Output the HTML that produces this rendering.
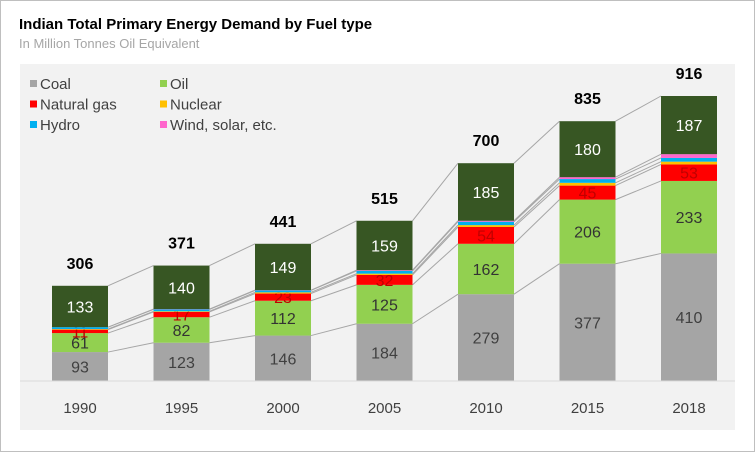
<!DOCTYPE html>
<html><head><meta charset="utf-8"><style>
body{margin:0;width:755px;height:452px;background:#fff;font-family:"Liberation Sans",Arial,sans-serif;overflow:hidden}
#wrap{position:absolute;left:0;top:0;width:753px;height:450px;border:1px solid #bfbfbf}
</style></head><body>
<div id="wrap"></div>
<svg id="chart" width="755" height="452" style="position:absolute;left:0;top:0">
<text x="19" y="29" font-size="15" font-weight="bold" fill="#000">Indian Total Primary Energy Demand by Fuel type</text>
<text x="19" y="48" font-size="13" fill="#a6a6a6">In Million Tonnes Oil Equivalent</text>
<rect x="20" y="64" width="715" height="366" fill="#f2f2f2"/>
<g id="legend"></g>
<g id="lines"></g><g id="bars"></g>
<line x1="20" y1="381" x2="735" y2="381" stroke="#d9d9d9"/>
</svg>
<script>
const years=["1990","1995","2000","2005","2010","2015","2018"];
const coal=[93,123,146,184,279,377,410];
const oil=[61,82,112,125,162,206,233];
const gas=[11,17,23,32,54,45,53];
const nuclear=[2,2,4,4,6,9,9];
const hydro=[6,6,6,9,11,12,12];
const wind=[0,1,1,2,3,6,12];
const other=[133,140,149,159,185,180,187];
const totals=[306,371,441,515,700,835,916];
const seriesNames=["Coal","Oil","Natural gas","Nuclear","Hydro","Wind, solar, etc.",""];
const series=[coal,oil,gas,nuclear,hydro,wind,other];
const colors=["#a5a5a5","#92d050","#ff0000","#ffc000","#00b0f0","#ff66cc","#375623"];
const labelColors=["#404040","#333","#c00000",null,null,null,"#fff"];
const NS="http://www.w3.org/2000/svg";
const base=381,scale=285/916,x0=80,step=101.5,bw=56;
const y=v=>base-v*scale, xc=i=>x0+i*step;
function mk(t,a,p){const e=document.createElementNS(NS,t);for(const k in a)e.setAttribute(k,a[k]);p.appendChild(e);return e;}
const bars=document.getElementById('bars'),lines=document.getElementById('lines'),leg=document.getElementById('legend');
const cums=years.map((_,i)=>{let c=0;return series.map(s=>c+=s[i]);});
for(let s=0;s<series.length;s++){for(let i=0;i<years.length-1;i++){
 const l=mk('line',{x1:xc(i)+bw/2,y1:y(cums[i][s]),x2:xc(i+1)-bw/2,y2:y(cums[i+1][s]),stroke:'#a6a6a6','stroke-width':1},lines);
 
 }}
years.forEach((yr,i)=>{let c=0;
 series.forEach((s,k)=>{const v=s[i];const r=mk('rect',{x:xc(i)-bw/2,y:y(c+v),width:bw,height:v*scale,fill:colors[k]},bars);
  
  
  if(labelColors[k]&&v>=10){const t=mk('text',{x:xc(i),y:y(c+v/2)+6,'text-anchor':'middle','font-size':16,fill:labelColors[k]},bars);t.textContent=v;
   
   }
  c+=v;});
 const tt=mk('text',{x:xc(i),y:y(c)-17,'text-anchor':'middle','font-size':16,'font-weight':'bold',fill:'#000'},bars);tt.textContent=totals[i];
 
 
 const xl=mk('text',{x:xc(i),y:413,'text-anchor':'middle','font-size':15,fill:'#404040'},bars);xl.textContent=yr;
 
 
});
for(let k=0;k<6;k++){const lx=30+(k%2)*130,ly=84+Math.floor(k/2)*20.5;
 const g=mk('g',{},leg);
 
 
 mk('rect',{x:lx,y:ly-4,width:7,height:7,fill:colors[k]},g);
 const t=mk('text',{x:lx+10,y:ly+5,'font-size':15,fill:'#404040'},g);t.textContent=seriesNames[k];}
</script>
</body></html>
